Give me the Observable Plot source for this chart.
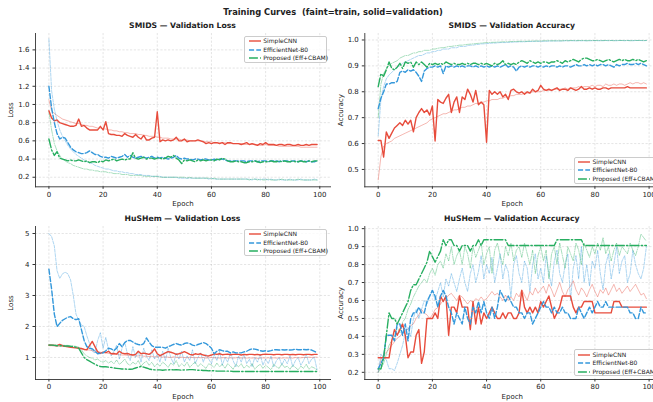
<!DOCTYPE html>
<html><head><meta charset="utf-8">
<script src="https://cdn.jsdelivr.net/npm/d3@7"></script>
<script src="https://cdn.jsdelivr.net/npm/@observablehq/plot@0.6"></script>
<style>
body{margin:0;background:#fff;}
#fig{position:relative;width:653px;height:402px;overflow:hidden;font-family:"DejaVu Sans",sans-serif;color:#222;background:#fff;}
#fig svg.plot{position:absolute;left:0;top:0;}
.ttl{position:absolute;font-weight:bold;white-space:nowrap;transform:translate(-50%,-50%);line-height:1;}
.leg{position:absolute;box-sizing:border-box;background:rgba(255,255,255,0.8);border:0.8px solid #ccc;border-radius:2px;}
.row{position:absolute;left:0;height:8px;white-space:nowrap;font-size:6px;line-height:8px;}
.row svg{position:absolute;left:3.5px;top:1px;}
.row span{position:absolute;left:18px;top:0;}
</style></head><body><div id="fig"></div>
<script>
// ---------- data ----------
const epochCount = 100;
const epochTicks = [0, 20, 40, 60, 80, 100];
const modelNames = ["SimpleCNN", "EfficientNet-B0", "Proposed (Eff+CBAM)"];
const smidsLossTicks = [0.2, 0.4, 0.6, 0.8, 1.0, 1.2, 1.4, 1.6];
const smidsAccTicks = [0.5, 0.6, 0.7, 0.8, 0.9, 1.0];
const hushLossTicks = [1, 2, 3, 4, 5];
const hushAccTicks = [0.2, 0.3, 0.4, 0.5, 0.6, 0.7, 0.8, 0.9, 1.0];

const smidsLossSimpleTrain = [1.05,0.93,0.90,0.88,0.86,0.84,0.83,0.82,0.81,0.80,
 0.79,0.79,0.78,0.77,0.77,0.76,0.76,0.75,0.74,0.74,
 0.73,0.73,0.72,0.72,0.71,0.71,0.70,0.70,0.69,0.69,
 0.68,0.68,0.68,0.67,0.67,0.66,0.66,0.65,0.65,0.65,
 0.64,0.64,0.63,0.63,0.63,0.62,0.62,0.62,0.62,0.61,
 0.61,0.61,0.60,0.60,0.60,0.60,0.60,0.59,0.59,0.59,
 0.59,0.58,0.58,0.58,0.58,0.58,0.57,0.57,0.57,0.57,
 0.57,0.57,0.56,0.56,0.56,0.56,0.56,0.56,0.55,0.55,
 0.56,0.55,0.55,0.55,0.55,0.54,0.54,0.54,0.54,0.54,
 0.54,0.54,0.54,0.53,0.53,0.53,0.53,0.53,0.53,0.53];
const smidsLossSimpleVal = [0.93,0.85,0.82,0.83,0.80,0.79,0.78,0.77,0.76,0.76,
 0.77,0.84,0.76,0.77,0.74,0.72,0.72,0.72,0.72,0.76,
 0.72,0.81,0.68,0.67,0.67,0.66,0.66,0.65,0.68,0.66,
 0.65,0.64,0.67,0.64,0.62,0.66,0.61,0.61,0.63,0.64,
 0.92,0.59,0.61,0.60,0.61,0.60,0.61,0.64,0.60,0.60,
 0.62,0.59,0.60,0.60,0.60,0.61,0.60,0.59,0.57,0.58,
 0.57,0.58,0.58,0.57,0.58,0.56,0.58,0.58,0.57,0.57,
 0.57,0.56,0.57,0.58,0.56,0.57,0.56,0.55,0.57,0.56,
 0.58,0.56,0.56,0.56,0.55,0.56,0.56,0.55,0.56,0.56,
 0.55,0.55,0.56,0.55,0.55,0.56,0.55,0.56,0.56,0.56];
const smidsLossEffTrain = [1.72,1.15,0.95,0.82,0.72,0.65,0.60,0.55,0.51,0.48,
 0.45,0.43,0.41,0.39,0.37,0.36,0.35,0.33,0.32,0.31,
 0.30,0.29,0.29,0.28,0.27,0.27,0.26,0.26,0.25,0.25,
 0.24,0.24,0.23,0.23,0.23,0.22,0.22,0.22,0.21,0.21,
 0.21,0.21,0.20,0.20,0.20,0.20,0.20,0.20,0.19,0.19,
 0.19,0.19,0.19,0.19,0.19,0.19,0.19,0.19,0.19,0.18,
 0.19,0.18,0.18,0.18,0.18,0.18,0.18,0.18,0.18,0.18,
 0.18,0.18,0.18,0.18,0.18,0.17,0.18,0.18,0.17,0.18,
 0.18,0.17,0.18,0.17,0.17,0.18,0.17,0.17,0.17,0.18,
 0.17,0.17,0.17,0.18,0.17,0.17,0.17,0.17,0.18,0.17];
const smidsLossEffVal = [1.20,0.96,0.80,0.68,0.62,0.64,0.63,0.58,0.53,0.50,
 0.48,0.47,0.46,0.46,0.47,0.49,0.47,0.45,0.45,0.43,
 0.42,0.42,0.41,0.43,0.42,0.41,0.42,0.43,0.45,0.42,
 0.44,0.42,0.41,0.42,0.43,0.42,0.41,0.42,0.43,0.41,
 0.42,0.41,0.42,0.41,0.40,0.41,0.42,0.44,0.41,0.40,
 0.41,0.40,0.40,0.39,0.40,0.40,0.39,0.40,0.40,0.39,
 0.39,0.40,0.39,0.40,0.40,0.39,0.38,0.38,0.38,0.38,
 0.38,0.38,0.38,0.37,0.38,0.38,0.38,0.37,0.38,0.38,
 0.38,0.37,0.38,0.38,0.38,0.37,0.38,0.38,0.38,0.37,
 0.38,0.38,0.37,0.38,0.38,0.37,0.38,0.37,0.37,0.38];
const smidsLossPropTrain = [0.92,0.72,0.57,0.49,0.44,0.40,0.38,0.36,0.35,0.33,
 0.32,0.31,0.30,0.29,0.29,0.28,0.28,0.27,0.27,0.26,
 0.26,0.26,0.25,0.25,0.24,0.24,0.24,0.23,0.23,0.23,
 0.22,0.22,0.22,0.22,0.22,0.21,0.21,0.21,0.21,0.21,
 0.21,0.20,0.20,0.20,0.20,0.20,0.20,0.20,0.20,0.20,
 0.20,0.19,0.20,0.19,0.19,0.19,0.19,0.19,0.19,0.19,
 0.18,0.19,0.18,0.18,0.18,0.18,0.18,0.18,0.18,0.18,
 0.18,0.18,0.18,0.18,0.17,0.18,0.18,0.17,0.18,0.17,
 0.17,0.18,0.17,0.17,0.17,0.17,0.18,0.17,0.17,0.17,
 0.17,0.17,0.18,0.17,0.17,0.17,0.17,0.17,0.17,0.17];
const smidsLossPropVal = [0.62,0.50,0.44,0.48,0.41,0.40,0.39,0.38,0.39,0.38,
 0.38,0.39,0.38,0.37,0.38,0.36,0.37,0.37,0.36,0.38,
 0.37,0.39,0.38,0.39,0.40,0.38,0.39,0.40,0.39,0.40,
 0.40,0.47,0.41,0.40,0.41,0.42,0.40,0.41,0.41,0.40,
 0.41,0.41,0.40,0.41,0.43,0.42,0.44,0.41,0.39,0.35,
 0.39,0.38,0.39,0.38,0.37,0.39,0.38,0.39,0.38,0.39,
 0.39,0.38,0.40,0.39,0.41,0.40,0.38,0.37,0.37,0.38,
 0.37,0.37,0.36,0.36,0.37,0.37,0.38,0.37,0.36,0.37,
 0.37,0.37,0.38,0.37,0.37,0.38,0.37,0.38,0.37,0.37,
 0.38,0.37,0.37,0.38,0.37,0.37,0.38,0.37,0.38,0.38];

const smidsAccSimpleTrain = [0.46,0.55,0.59,0.60,0.605,0.61,0.62,0.625,0.63,0.635,
 0.64,0.645,0.65,0.655,0.66,0.665,0.67,0.675,0.68,0.69,
 0.695,0.70,0.705,0.71,0.715,0.715,0.72,0.725,0.73,0.73,
 0.735,0.74,0.74,0.745,0.745,0.75,0.755,0.755,0.76,0.76,
 0.765,0.765,0.77,0.77,0.77,0.775,0.775,0.78,0.78,0.785,
 0.785,0.79,0.79,0.79,0.795,0.795,0.795,0.80,0.80,0.80,
 0.80,0.805,0.805,0.805,0.805,0.81,0.81,0.81,0.81,0.815,
 0.81,0.815,0.815,0.815,0.82,0.815,0.82,0.82,0.82,0.825,
 0.82,0.825,0.825,0.82,0.83,0.825,0.825,0.83,0.825,0.83,
 0.83,0.825,0.83,0.835,0.83,0.835,0.835,0.83,0.835,0.83];
const smidsAccSimpleVal = [0.612,0.612,0.548,0.645,0.62,0.64,0.66,0.67,0.68,0.67,
 0.69,0.675,0.69,0.645,0.70,0.72,0.735,0.72,0.73,0.71,
 0.745,0.61,0.77,0.76,0.755,0.775,0.79,0.72,0.76,0.78,
 0.72,0.78,0.77,0.81,0.79,0.76,0.805,0.75,0.76,0.75,
 0.605,0.805,0.79,0.80,0.79,0.80,0.78,0.79,0.77,0.805,
 0.81,0.80,0.795,0.80,0.79,0.80,0.795,0.81,0.80,0.805,
 0.825,0.81,0.805,0.81,0.805,0.81,0.815,0.805,0.81,0.81,
 0.805,0.815,0.81,0.805,0.81,0.82,0.81,0.81,0.815,0.81,
 0.815,0.81,0.81,0.815,0.815,0.81,0.815,0.815,0.815,0.815,
 0.815,0.815,0.82,0.815,0.815,0.815,0.815,0.815,0.815,0.815];
const smidsAccEffTrain = [0.63,0.77,0.82,0.85,0.865,0.875,0.885,0.895,0.90,0.91,
 0.915,0.92,0.925,0.93,0.935,0.94,0.94,0.945,0.95,0.95,
 0.955,0.955,0.96,0.96,0.965,0.965,0.965,0.97,0.97,0.97,
 0.975,0.975,0.975,0.978,0.98,0.98,0.982,0.983,0.985,0.985,
 0.986,0.987,0.988,0.988,0.989,0.99,0.99,0.99,0.991,0.991,
 0.992,0.992,0.993,0.993,0.993,0.994,0.994,0.994,0.995,0.995,
 0.995,0.995,0.995,0.996,0.996,0.996,0.996,0.996,0.996,0.997,
 0.997,0.997,0.997,0.997,0.997,0.997,0.997,0.997,0.997,0.997,
 0.998,0.997,0.998,0.997,0.998,0.997,0.998,0.998,0.997,0.998,
 0.998,0.997,0.998,0.998,0.997,0.998,0.998,0.998,0.997,0.998];
const smidsAccEffVal = [0.735,0.775,0.80,0.83,0.83,0.835,0.835,0.84,0.875,0.88,
 0.875,0.885,0.88,0.885,0.875,0.86,0.84,0.88,0.89,0.895,
 0.895,0.90,0.895,0.90,0.87,0.90,0.895,0.90,0.895,0.90,
 0.895,0.90,0.895,0.90,0.90,0.895,0.90,0.895,0.90,0.895,
 0.90,0.895,0.90,0.895,0.90,0.895,0.90,0.905,0.895,0.90,
 0.895,0.88,0.895,0.90,0.895,0.90,0.895,0.90,0.90,0.895,
 0.90,0.895,0.90,0.895,0.90,0.90,0.895,0.90,0.895,0.90,
 0.90,0.895,0.90,0.905,0.90,0.90,0.905,0.90,0.905,0.90,
 0.905,0.90,0.905,0.905,0.90,0.905,0.90,0.895,0.905,0.90,
 0.905,0.905,0.91,0.905,0.905,0.91,0.905,0.91,0.905,0.90];
const smidsAccPropTrain = [0.70,0.83,0.87,0.89,0.90,0.91,0.915,0.92,0.93,0.935,
 0.94,0.94,0.945,0.95,0.95,0.955,0.955,0.96,0.96,0.96,
 0.965,0.965,0.968,0.97,0.97,0.972,0.975,0.975,0.977,0.978,
 0.98,0.98,0.982,0.983,0.984,0.985,0.986,0.987,0.988,0.989,
 0.99,0.99,0.991,0.991,0.992,0.992,0.993,0.993,0.993,0.994,
 0.994,0.994,0.995,0.995,0.995,0.995,0.996,0.996,0.996,0.996,
 0.996,0.997,0.997,0.997,0.997,0.997,0.997,0.997,0.997,0.998,
 0.997,0.998,0.998,0.997,0.998,0.998,0.998,0.997,0.998,0.998,
 0.998,0.998,0.997,0.998,0.998,0.998,0.998,0.997,0.998,0.998,
 0.998,0.998,0.998,0.997,0.998,0.998,0.998,0.998,0.998,0.998];
const smidsAccPropVal = [0.82,0.87,0.86,0.885,0.915,0.89,0.885,0.895,0.91,0.89,
 0.915,0.91,0.915,0.895,0.915,0.905,0.915,0.905,0.895,0.91,
 0.905,0.91,0.905,0.91,0.905,0.915,0.91,0.905,0.91,0.905,
 0.905,0.91,0.905,0.91,0.905,0.91,0.91,0.905,0.91,0.905,
 0.91,0.905,0.90,0.91,0.905,0.91,0.92,0.905,0.91,0.905,
 0.91,0.905,0.915,0.92,0.915,0.91,0.92,0.915,0.91,0.915,
 0.91,0.915,0.915,0.91,0.915,0.915,0.92,0.915,0.91,0.92,
 0.915,0.92,0.925,0.92,0.915,0.925,0.93,0.93,0.925,0.92,
 0.92,0.925,0.92,0.915,0.92,0.925,0.92,0.915,0.92,0.925,
 0.92,0.925,0.92,0.92,0.925,0.92,0.925,0.92,0.915,0.92];

const hushLossSimpleTrain = [1.38,1.38,1.37,1.37,1.36,1.36,1.35,1.33,1.33,1.32,
 1.31,1.30,1.28,1.27,1.25,1.24,1.22,1.20,1.19,1.17,
 1.16,1.15,1.13,1.12,1.11,1.10,1.09,1.08,1.08,1.07,
 1.06,1.06,1.05,1.05,1.06,1.04,1.04,1.03,1.04,1.02,
 1.02,1.03,1.01,1.02,1.01,1.00,1.02,1.01,1.00,1.01,
 1.00,0.99,1.01,1.00,0.99,1.00,0.99,1.00,0.98,0.99,
 1.00,0.99,0.99,0.98,0.99,1.00,0.98,0.99,0.98,0.99,
 1.00,0.98,0.99,0.98,0.99,0.98,0.99,0.97,0.98,0.99,
 0.98,0.99,0.98,0.99,0.98,0.99,0.98,0.99,0.98,0.99,
 0.98,1.00,0.99,0.99,1.00,1.00,1.01,1.00,1.01,1.01];
const hushLossSimpleVal = [1.40,1.40,1.39,1.38,1.42,1.38,1.36,1.35,1.33,1.32,
 1.31,1.30,1.29,1.26,1.25,1.38,1.52,1.35,1.18,1.13,
 1.17,1.16,1.20,1.12,1.13,1.11,1.20,1.14,1.12,1.13,
 1.10,1.08,1.10,1.20,1.12,1.14,1.12,1.10,1.16,1.28,
 1.12,1.06,1.10,1.15,1.19,1.17,1.14,1.10,1.12,1.15,
 1.19,1.15,1.10,1.08,1.12,1.10,1.12,1.08,1.06,1.05,
 1.08,1.12,1.10,1.12,1.09,1.10,1.11,1.09,1.10,1.11,
 1.10,1.08,1.10,1.09,1.10,1.10,1.09,1.10,1.08,1.10,
 1.11,1.10,1.10,1.09,1.10,1.10,1.09,1.10,1.10,1.09,
 1.10,1.09,1.10,1.10,1.09,1.10,1.10,1.09,1.10,1.10];
const hushLossEffTrain = [5.0,4.9,4.6,3.8,3.55,3.7,3.75,3.7,3.5,3.0,
 2.4,2.2,2.05,2.0,1.7,1.45,1.2,1.15,1.55,1.8,
 1.3,1.65,1.25,1.05,1.2,1.4,0.95,1.3,1.5,1.1,
 0.9,1.35,1.0,1.2,0.85,1.3,1.05,0.9,1.25,0.95,
 1.1,0.85,1.2,0.9,1.3,1.0,0.8,1.15,0.95,1.2,
 0.85,1.05,0.9,1.25,0.8,1.0,1.15,0.85,1.1,0.95,
 0.8,1.1,0.9,1.2,0.75,1.0,0.85,1.15,0.9,0.7,
 1.05,0.85,1.1,0.8,0.95,0.7,1.0,0.85,1.1,0.75,
 0.95,0.8,1.05,0.7,0.9,1.0,0.75,0.95,0.8,1.05,
 0.7,0.9,1.0,0.75,0.9,1.1,0.8,0.95,1.0,0.6];
const hushLossEffVal = [3.85,3.2,2.4,2.0,2.1,2.2,2.25,2.3,2.32,2.25,
 2.22,2.25,1.9,1.55,1.35,1.3,1.28,1.2,1.12,1.14,
 1.15,1.22,1.3,1.28,1.22,1.3,1.45,1.35,1.48,1.55,
 1.55,1.5,1.45,1.42,1.4,1.45,1.63,1.5,1.38,1.33,
 1.33,1.33,1.33,1.3,1.35,1.38,1.42,1.45,1.42,1.4,
 1.45,1.47,1.45,1.4,1.38,1.42,1.45,1.48,1.45,1.38,
 1.3,1.12,1.2,1.25,1.22,1.2,1.2,1.15,1.18,1.15,
 1.15,1.15,1.18,1.2,1.25,1.28,1.27,1.25,1.22,1.2,
 1.22,1.2,1.22,1.25,1.25,1.24,1.25,1.24,1.25,1.24,
 1.25,1.27,1.25,1.25,1.26,1.25,1.26,1.24,1.2,1.15];
const hushLossPropTrain = [1.42,1.41,1.41,1.40,1.40,1.40,1.39,1.39,1.38,1.37,
 1.36,1.33,1.25,1.12,1.05,1.0,0.98,0.92,0.95,0.88,
 0.85,0.9,0.82,0.88,0.8,0.92,0.78,0.85,0.95,0.8,
 0.75,0.85,0.78,0.9,0.72,0.82,0.88,0.75,0.85,0.7,
 0.8,0.72,0.85,0.78,0.68,0.82,0.75,0.9,0.7,0.8,
 0.72,0.85,0.68,0.78,0.85,0.7,0.8,0.72,0.65,0.8,
 0.75,0.68,0.82,0.7,0.78,0.65,0.8,0.72,0.62,0.78,
 0.7,0.8,0.65,0.75,0.68,0.8,0.62,0.72,0.78,0.65,
 0.75,0.68,0.6,0.78,0.7,0.65,0.8,0.68,0.72,0.62,
 0.75,0.68,0.6,0.72,0.65,0.78,0.62,0.7,0.66,0.6];
const hushLossPropVal = [1.40,1.40,1.39,1.38,1.38,1.38,1.37,1.37,1.36,1.35,
 1.33,1.30,1.15,1.00,0.93,0.88,0.83,0.78,0.74,0.71,
 0.70,0.70,0.69,0.68,0.66,0.65,0.64,0.63,0.63,0.62,
 0.62,0.63,0.66,0.69,0.71,0.69,0.66,0.63,0.61,0.60,
 0.60,0.60,0.59,0.60,0.60,0.61,0.60,0.61,0.60,0.59,
 0.60,0.60,0.61,0.61,0.60,0.59,0.59,0.58,0.58,0.57,
 0.57,0.57,0.56,0.56,0.56,0.56,0.56,0.56,0.55,0.55,
 0.55,0.55,0.55,0.55,0.55,0.55,0.55,0.55,0.55,0.55,
 0.55,0.55,0.55,0.55,0.55,0.55,0.55,0.55,0.55,0.55,
 0.55,0.55,0.55,0.55,0.55,0.55,0.55,0.55,0.55,0.55];

const hushAccSimpleTrain = [0.2,0.27,0.3,0.31,0.33,0.35,0.37,0.39,0.4,0.42,
 0.43,0.44,0.46,0.47,0.5,0.52,0.55,0.53,0.52,0.5,
 0.52,0.55,0.56,0.58,0.6,0.61,0.63,0.64,0.62,0.6,
 0.63,0.62,0.6,0.58,0.6,0.59,0.61,0.6,0.62,0.6,
 0.61,0.63,0.65,0.63,0.64,0.62,0.6,0.63,0.6,0.62,
 0.6,0.64,0.62,0.66,0.63,0.6,0.65,0.63,0.67,0.64,
 0.66,0.68,0.64,0.69,0.66,0.62,0.66,0.7,0.65,0.62,
 0.66,0.68,0.71,0.66,0.63,0.67,0.65,0.62,0.66,0.69,
 0.65,0.62,0.66,0.64,0.67,0.63,0.66,0.69,0.65,0.67,
 0.64,0.66,0.68,0.65,0.67,0.69,0.66,0.63,0.64,0.61];
const hushAccSimpleVal = [0.281,0.281,0.281,0.281,0.281,0.375,0.438,0.406,0.438,0.469,
 0.406,0.281,0.313,0.313,0.406,0.438,0.25,0.313,0.5,0.5,
 0.5,0.531,0.5,0.625,0.594,0.625,0.406,0.563,0.563,0.531,
 0.625,0.563,0.563,0.563,0.438,0.594,0.469,0.563,0.469,0.531,
 0.5,0.531,0.563,0.531,0.5,0.5,0.531,0.5,0.531,0.531,
 0.5,0.5,0.531,0.656,0.563,0.531,0.563,0.531,0.563,0.531,
 0.594,0.563,0.594,0.625,0.563,0.5,0.531,0.563,0.625,0.625,
 0.625,0.625,0.563,0.531,0.563,0.563,0.594,0.594,0.594,0.594,
 0.531,0.531,0.531,0.531,0.531,0.531,0.531,0.594,0.594,0.594,
 0.563,0.563,0.563,0.563,0.563,0.563,0.563,0.563,0.563,0.563];
const hushAccEffTrain = [0.2,0.3,0.28,0.27,0.22,0.22,0.21,0.25,0.3,0.35,
 0.42,0.45,0.4,0.5,0.55,0.5,0.55,0.6,0.58,0.62,
 0.66,0.6,0.65,0.7,0.62,0.72,0.68,0.75,0.7,0.65,
 0.72,0.78,0.7,0.65,0.75,0.8,0.7,0.76,0.85,0.72,
 0.8,0.75,0.84,0.7,0.78,0.86,0.72,0.8,0.76,0.62,
 0.8,0.85,0.75,0.7,0.82,0.78,0.65,0.8,0.86,0.72,
 0.78,0.7,0.85,0.75,0.68,0.82,0.88,0.75,0.7,0.8,
 0.86,0.6,0.78,0.85,0.72,0.9,0.7,0.8,0.68,0.82,
 0.78,0.88,0.75,0.66,0.8,0.86,0.72,0.8,0.9,0.75,
 0.82,0.85,0.7,0.75,0.88,0.8,0.75,0.72,0.78,0.9];
const hushAccEffVal = [0.219,0.25,0.281,0.406,0.406,0.406,0.375,0.469,0.469,0.406,
 0.469,0.375,0.5,0.531,0.531,0.563,0.531,0.531,0.594,0.625,
 0.656,0.625,0.563,0.625,0.656,0.625,0.563,0.531,0.469,0.531,
 0.5,0.469,0.563,0.5,0.469,0.563,0.531,0.594,0.531,0.594,
 0.531,0.5,0.563,0.5,0.563,0.656,0.625,0.594,0.625,0.594,
 0.563,0.563,0.531,0.531,0.5,0.531,0.531,0.469,0.5,0.531,
 0.563,0.594,0.563,0.563,0.531,0.563,0.531,0.531,0.563,0.531,
 0.531,0.5,0.5,0.5,0.563,0.531,0.5,0.531,0.563,0.531,
 0.563,0.594,0.563,0.563,0.594,0.563,0.563,0.563,0.563,0.563,
 0.563,0.563,0.563,0.531,0.531,0.5,0.5,0.563,0.531,0.531];
const hushAccPropTrain = [0.2,0.22,0.25,0.3,0.35,0.38,0.4,0.45,0.42,0.48,
 0.5,0.55,0.58,0.62,0.65,0.68,0.7,0.72,0.7,0.75,
 0.78,0.74,0.8,0.82,0.78,0.86,0.82,0.9,0.8,0.85,
 0.88,0.8,0.9,0.86,0.78,0.9,0.84,0.88,0.92,0.8,
 0.86,0.9,0.75,0.88,0.92,0.85,0.8,0.9,0.85,0.92,
 0.82,0.88,0.9,0.84,0.92,0.86,0.8,0.88,0.75,0.85,
 0.9,0.82,0.88,0.72,0.86,0.9,0.8,0.92,0.85,0.78,
 0.9,0.86,0.82,0.92,0.88,0.8,0.92,0.88,0.84,0.9,
 0.86,0.92,0.88,0.95,0.86,0.9,0.82,0.88,0.92,0.85,
 0.9,0.88,0.86,0.92,0.88,0.85,0.9,0.97,0.95,0.93];
const hushAccPropVal = [0.219,0.219,0.281,0.406,0.531,0.5,0.5,0.469,0.5,0.531,
 0.563,0.594,0.656,0.688,0.688,0.719,0.75,0.781,0.813,0.875,
 0.844,0.813,0.844,0.875,0.938,0.906,0.938,0.938,0.906,0.906,
 0.875,0.906,0.906,0.906,0.875,0.906,0.906,0.938,0.906,0.938,
 0.938,0.938,0.938,0.938,0.938,0.938,0.938,0.938,0.906,0.906,
 0.906,0.906,0.906,0.906,0.906,0.906,0.906,0.906,0.906,0.906,
 0.906,0.906,0.906,0.906,0.906,0.906,0.938,0.938,0.938,0.938,
 0.938,0.938,0.938,0.938,0.938,0.938,0.906,0.906,0.906,0.906,
 0.906,0.906,0.906,0.906,0.906,0.906,0.906,0.906,0.906,0.906,
 0.906,0.906,0.906,0.906,0.906,0.906,0.906,0.906,0.906,0.906];

// ---------- styling / layout ----------
const modelStyle = {
  "SimpleCNN": {color: "#e74c3c", dash: null, dashTrain: null},
  "EfficientNet-B0": {color: "#3498db", dash: "5.1,2.2", dashTrain: "3,1.3"},
  "Proposed (Eff+CBAM)": {color: "#27ae60", dash: "8.9,2.2,1.4,2.2", dashTrain: "5,1.3,0.9,1.3"}
};
const W = 720, H = 402;
const panels = [
  {title: "SMIDS — Validation Loss", ylabel: "Loss", left: 35, right: 330, top: 33, bottom: 186.3,
   yDomain: [0.095, 1.78], yTicks: smidsLossTicks, fmt: ".1f", legend: "upper",
   train: [smidsLossSimpleTrain, smidsLossEffTrain, smidsLossPropTrain],
   val: [smidsLossSimpleVal, smidsLossEffVal, smidsLossPropVal]},
  {title: "SMIDS — Validation Accuracy", ylabel: "Accuracy", left: 364.3, right: 659.3, top: 33, bottom: 186.3,
   yDomain: [0.433, 1.025], yTicks: smidsAccTicks, fmt: ".1f", legend: "lower",
   train: [smidsAccSimpleTrain, smidsAccEffTrain, smidsAccPropTrain],
   val: [smidsAccSimpleVal, smidsAccEffVal, smidsAccPropVal]},
  {title: "HuSHem — Validation Loss", ylabel: "Loss", left: 35, right: 330, top: 226, bottom: 379,
   yDomain: [0.29, 5.226], yTicks: hushLossTicks, fmt: "d", legend: "upper",
   train: [hushLossSimpleTrain, hushLossEffTrain, hushLossPropTrain],
   val: [hushLossSimpleVal, hushLossEffVal, hushLossPropVal]},
  {title: "HuSHem — Validation Accuracy", ylabel: "Accuracy", left: 364.3, right: 659.3, top: 226, bottom: 379,
   yDomain: [0.16, 1.012], yTicks: hushAccTicks, fmt: ".1f", legend: "lower",
   train: [hushAccSimpleTrain, hushAccEffTrain, hushAccPropTrain],
   val: [hushAccSimpleVal, hushAccEffVal, hushAccPropVal]}
];

const fig = document.getElementById("fig");
const gridStyle = {stroke: "#b0b0b0", strokeOpacity: 0.55, strokeWidth: 0.6, strokeDasharray: "2.2,1.6"};

function lineMark(values, model, kind) {
  const s = modelStyle[model];
  const isVal = kind === "val";
  return Plot.line(values, {
    x: (d, i) => i, y: d => d,
    stroke: s.color,
    strokeWidth: isVal ? 1.4 : 1.0,
    strokeOpacity: isVal ? 1 : 0.4,
    strokeDasharray: isVal ? s.dash : s.dashTrain,
    clip: "frame"
  });
}

panels.forEach(p => {
  const marks = [
    Plot.gridX(epochTicks, gridStyle),
    Plot.gridY(p.yTicks, gridStyle)
  ];
  modelNames.forEach((m, i) => marks.push(lineMark(p.train[i], m, "train")));
  modelNames.forEach((m, i) => marks.push(lineMark(p.val[i], m, "val")));
  marks.push(
    Plot.axisX(epochTicks, {tickSize: 2.5, tickPadding: 2.5, stroke: "#333", label: "Epoch",
      labelAnchor: "center", labelOffset: 19.5, labelArrow: false}),
    Plot.axisY(p.yTicks, {tickSize: 2.5, tickPadding: 3.5, stroke: "#333", tickFormat: d3.format(p.fmt),
      label: p.ylabel, labelAnchor: "center", labelOffset: 27, labelArrow: false}),
    Plot.frame({anchor: "left", stroke: "#333", strokeWidth: 0.9}),
    Plot.frame({anchor: "bottom", stroke: "#333", strokeWidth: 0.9})
  );
  const svg = Plot.plot({
    width: W, height: H,
    marginLeft: p.left, marginRight: W - p.right, marginTop: p.top, marginBottom: H - p.bottom,
    x: {domain: [-4.95, 103.95]},
    y: {domain: p.yDomain},
    style: {fontFamily: "DejaVu Sans", fontSize: "7px", color: "#222", background: "transparent",
      maxWidth: "none", overflow: "visible"},
    marks
  });
  svg.classList.add("plot");
  fig.appendChild(svg);

  // panel title
  const t = document.createElement("div");
  t.className = "ttl";
  t.style.fontSize = "7.7px";
  t.style.left = ((p.left + p.right) / 2) + "px";
  t.style.top = (p.top - 7) + "px";
  t.textContent = p.title;
  fig.appendChild(t);

  // legend
  const lw = 83, lh = 27, pad = 2.75;
  const leg = document.createElement("div");
  leg.className = "leg";
  leg.style.width = lw + "px"; leg.style.height = lh + "px";
  leg.style.left = (p.right - pad - lw) + "px";
  leg.style.top = (p.legend === "upper" ? p.top + pad : p.bottom - pad - lh) + "px";
  modelNames.forEach((m, i) => {
    const s = modelStyle[m];
    const row = document.createElement("div");
    row.className = "row";
    row.style.top = (0.5 + i * 8.4) + "px";
    row.innerHTML = `<svg width="12" height="6"><line x1="0" y1="3" x2="12" y2="3" stroke="${s.color}" stroke-width="1.4" ${s.dash ? `stroke-dasharray="${s.dash}"` : ""}/></svg><span>${m}</span>`;
    leg.appendChild(row);
  });
  fig.appendChild(leg);
});

const sup = document.createElement("div");
sup.className = "ttl";
sup.style.fontSize = "8.3px";
sup.style.left = "333px";
sup.style.top = "11.5px";
sup.textContent = "Training Curves  (faint=train, solid=validation)";
sup.style.whiteSpace = "pre";
fig.appendChild(sup);
</script></body></html>
